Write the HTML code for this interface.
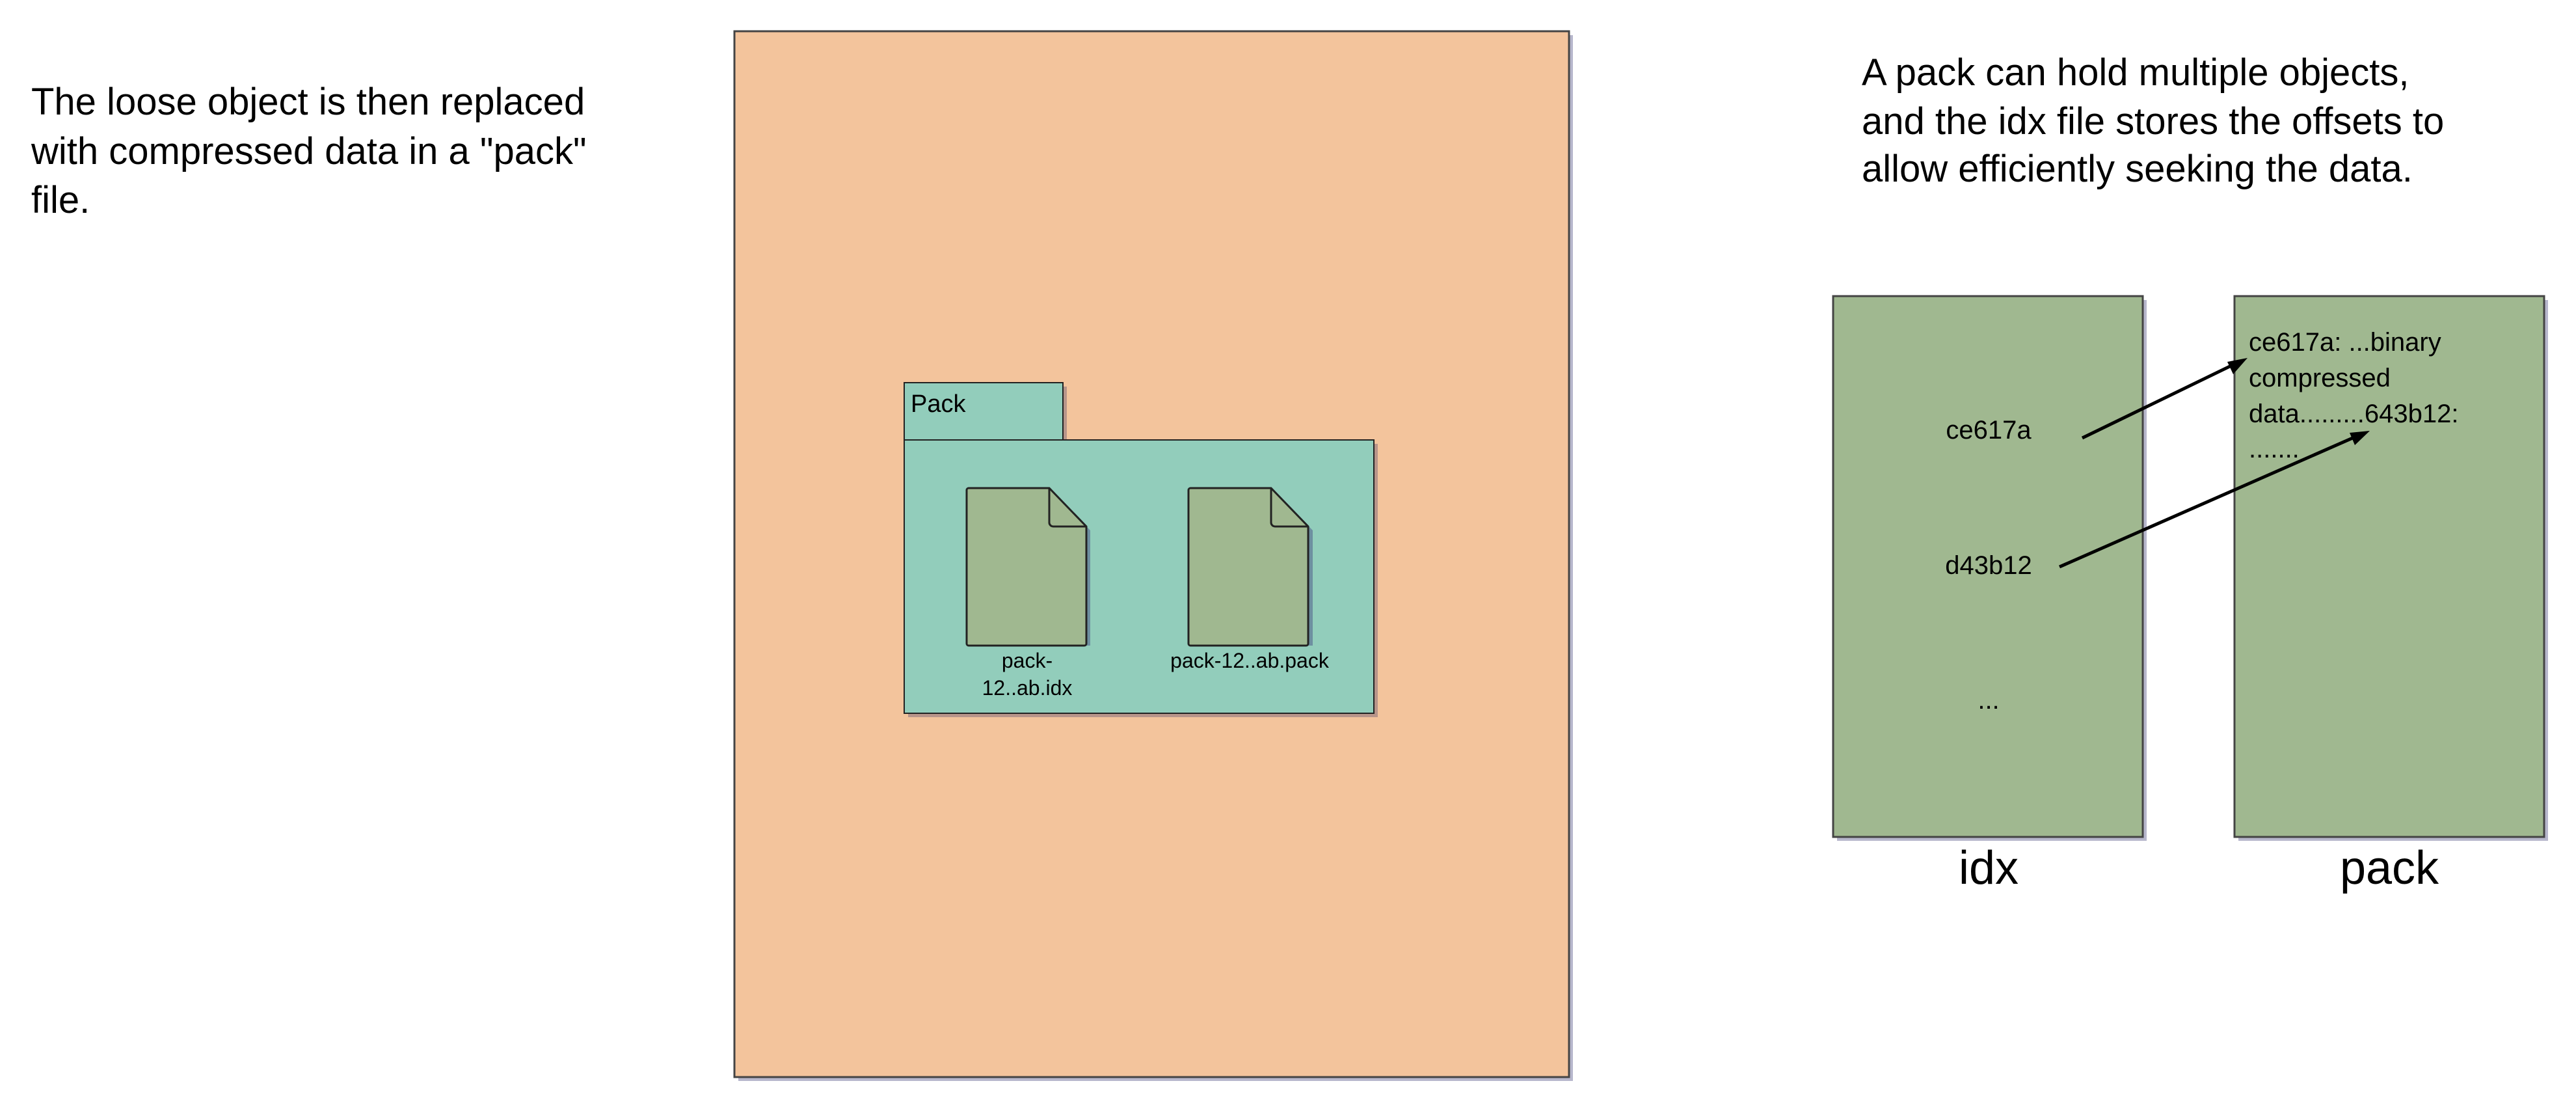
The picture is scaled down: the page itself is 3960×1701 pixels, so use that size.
<!DOCTYPE html>
<html><head><meta charset="utf-8"><style>
html,body{margin:0;padding:0;background:#fff;width:3960px;height:1701px;overflow:hidden}
svg{display:block}
text{font-family:"Liberation Sans","DejaVu Sans",sans-serif;fill:#000}
</style></head><body>
<svg width="3960" height="1701" viewBox="0 0 3960 1701" xmlns="http://www.w3.org/2000/svg">
<g font-size="58">
<text x="48" y="176">The loose object is then replaced</text>
<text x="48" y="252">with compressed data in a "pack"</text>
<text x="48" y="327">file.</text>
</g>
<g font-size="58">
<text x="2862" y="131">A pack can hold multiple objects,</text>
<text x="2862" y="206">and the idx file stores the offsets to</text>
<text x="2862" y="279">allow efficiently seeking the data.</text>
</g>
<g>
<rect x="1135" y="54" width="1283" height="1607" fill="#b7b7cc"/>
<rect x="1129" y="48" width="1283" height="1607" fill="#f3c49c" stroke="#444" stroke-width="3"/>
</g>
<g>
<rect x="1396" y="594" width="244" height="88" fill="#b8958a"/>
<rect x="1396" y="682" width="722" height="420" fill="#b8958a"/>
<rect x="1390" y="588" width="244" height="88" fill="#92cdbb" stroke="#222" stroke-width="2"/>
<rect x="1390" y="676" width="722" height="420" fill="#92cdbb" stroke="#222" stroke-width="2"/>
<text x="1400" y="633" font-size="38">Pack</text>
</g>
<g>
<path d="M1492,756 h127 l57,59 v177 h-190 z" fill="#6d8fa0"/>
<path d="M1490,750 h123 l57,59 v180 a3,3 0 0 1 -3,3 h-178 a3,3 0 0 1 -3,-3 v-236 a3,3 0 0 1 3,-3z" fill="#a0b890" stroke="#222" stroke-width="3"/>
<path d="M1613,750 v53 a6,6 0 0 0 6,6 h51" fill="none" stroke="#222" stroke-width="3"/>
<text x="1579" y="1026" font-size="32" text-anchor="middle">pack-</text>
<text x="1579" y="1068" font-size="32" text-anchor="middle">12..ab.idx</text>
</g>
<g>
<path d="M1834,756 h127 l57,59 v177 h-190 z" fill="#6d8fa0"/>
<path d="M1831,750 h123 l57,59 v180 a3,3 0 0 1 -3,3 h-178 a3,3 0 0 1 -3,-3 v-236 a3,3 0 0 1 3,-3z" fill="#a0b890" stroke="#222" stroke-width="3"/>
<path d="M1954,750 v53 a6,6 0 0 0 6,6 h51" fill="none" stroke="#222" stroke-width="3"/>
<text x="1921" y="1026" font-size="32" text-anchor="middle">pack-12..ab.pack</text>
</g>
<g>
<rect x="2824" y="461" width="476" height="831" fill="#b7b7cc"/>
<rect x="2818" y="455" width="476" height="831" fill="#a0b890" stroke="#444" stroke-width="3"/>
<text x="3057" y="674" font-size="40" text-anchor="middle">ce617a</text>
<text x="3057" y="882" font-size="40" text-anchor="middle">d43b12</text>
<text x="3057" y="1089" font-size="40" text-anchor="middle">...</text>
<text x="3057" y="1358" font-size="72" text-anchor="middle">idx</text>
</g>
<g>
<rect x="3441" y="461" width="476" height="831" fill="#b7b7cc"/>
<rect x="3435" y="455" width="476" height="831" fill="#a0b890" stroke="#444" stroke-width="3"/>
<g font-size="40">
<text x="3457" y="539">ce617a: ...binary</text>
<text x="3457" y="594">compressed</text>
<text x="3457" y="649">data.........643b12:</text>
<text x="3457" y="703">.......</text>
</g>
<text x="3673" y="1358" font-size="72" text-anchor="middle">pack</text>
</g>
<g>
<line x1="3201" y1="673" x2="3440" y2="557" stroke="#000" stroke-width="5"/>
<polygon points="3455,550 3424,556 3433,575" fill="#000"/>
</g>
<g>
<line x1="3166" y1="871" x2="3628" y2="668" stroke="#000" stroke-width="5"/>
<polygon points="3643,662 3612,665 3620,684" fill="#000"/>
</g>
</svg>
</body></html>
